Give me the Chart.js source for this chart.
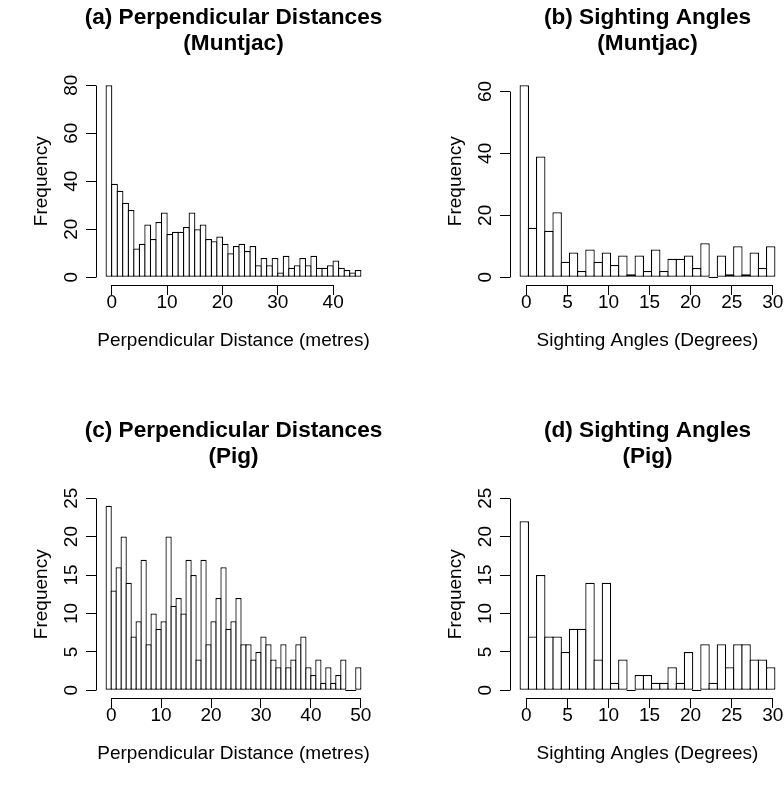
<!DOCTYPE html>
<html>
<head>
<meta charset="utf-8">
<script src="https://cdn.jsdelivr.net/npm/chart.js@4"></script>
<style>
html, body { margin:0; padding:0; background:#fff; width:784px; height:791px; overflow:hidden; position:relative; }
canvas { position:absolute; }
</style>
</head>
<body>
<canvas id="pa"></canvas>
<canvas id="pb"></canvas>
<canvas id="pc"></canvas>
<canvas id="pd"></canvas>
<script>
// ---------------- data (counts per 1-unit bin) ----------------
const muntjacDistCounts = [80,39,36,31,28,12,14,22,16,23,27,18,19,19,21,27,20,22,16,15,17,14,10,13,14,11,13,5,8,5,8,2,9,4,5,8,5,9,4,4,5,7,4,3,2,3];
const muntjacAngleCounts = [62,16,39,15,21,5,8,2,9,5,8,4,7,1,7,2,9,2,6,6,7,3,11,0,7,1,10,1,8,3,10];
const pigDistCounts = [24,13,16,20,14,7,9,17,6,10,8,9,20,11,12,10,17,15,4,17,6,9,12,16,8,9,12,6,6,4,5,7,6,4,3,6,3,4,6,7,3,2,4,1,3,1,2,4,0,0,3];
const pigAngleCounts = [22,7,15,7,7,5,8,8,14,4,14,1,4,0,2,2,1,1,3,1,5,0,6,1,6,3,6,6,4,4,3];

const distBinStart = -1;      // left edge of first distance bin
const angleBinStart = -0.75;  // left edge of first angle bin

// tick labels
const muntjacDistXTicks = [0,10,20,30,40];
const muntjacDistYTicks = [0,20,40,60,80];
const muntjacAngleXTicks = [0,5,10,15,20,25,30];
const muntjacAngleYTicks = [0,20,40,60];
const pigDistXTicks = [0,10,20,30,40,50];
const pigDistYTicks = [0,5,10,15,20,25];
const pigAngleXTicks = [0,5,10,15,20,25,30];
const pigAngleYTicks = [0,5,10,15,20,25];

// y-limits of each panel
const muntjacDistYMax = 80;
const muntjacAngleYMax = 62;
const pigDistYMax = 25;
const pigAngleYMax = 25;

// texts
const titleA = ["(a) Perpendicular Distances", "(Muntjac)"];
const titleB = ["(b) Sighting Angles", "(Muntjac)"];
const titleC = ["(c) Perpendicular Distances", "(Pig)"];
const titleD = ["(d) Sighting Angles", "(Pig)"];
const distXLabel = "Perpendicular Distance (metres)";
const angleXLabel = "Sighting Angles (Degrees)";
const yLabel = "Frequency";

// ---------------- style / layout ----------------
const FONT = "'Liberation Sans', Arial, Helvetica, sans-serif";
const FS = 19;          // base font size
const TFS = 22.6;       // title font size
const TLH = 26;         // title line spacing
const PW = 275, PH = 207.5;
const AXW = 96;         // room left of plot inside canvas
const TOPPAD = 77.5;    // room above plot inside canvas
const XH = 56 + FS * 0.6; // x-axis block height (title centre 56px below axis)
const TL = 10;          // tick length
const BW = 1.25;        // bar outline width
const CW = 392, CH = 380;

const rAxisLines = {
  id: 'rAxisLines',
  afterDraw(chart) {
    const { ctx, chartArea, scales } = chart;
    const x = scales.x, y = scales.y;
    const al = (p) => Math.round(p - 0.5) + 0.5;
    ctx.save();
    ctx.strokeStyle = '#000';
    ctx.lineWidth = 1;
    ctx.beginPath();
    const yb = al(chartArea.bottom);
    ctx.moveTo(al(x.getPixelForValue(x.ticks[0].value)), yb);
    ctx.lineTo(al(x.getPixelForValue(x.ticks[x.ticks.length - 1].value)), yb);
    const xl = al(chartArea.left);
    ctx.moveTo(xl, al(y.getPixelForValue(y.ticks[0].value)));
    ctx.lineTo(xl, al(y.getPixelForValue(y.ticks[y.ticks.length - 1].value)));
    ctx.stroke();
    ctx.restore();
  }
};

const rTitle = {
  id: 'rTitle',
  afterDraw(chart, args, opts) {
    const { ctx, chartArea } = chart;
    const cx = (chartArea.left + chartArea.right) / 2;
    ctx.save();
    ctx.fillStyle = '#000';
    ctx.font = 'bold ' + TFS + 'px ' + FONT;
    ctx.textAlign = 'center';
    ctx.textBaseline = 'middle';
    opts.lines.forEach((t, i) => ctx.fillText(t, cx, opts.y0 + i * TLH));
    ctx.restore();
  }
};

function panel(id, plotLeft, plotTop, counts, binStart, xTicks, yTicks, yMax, title, xlab) {
  const cv = document.getElementById(id);
  cv.width = CW; cv.height = CH;
  cv.style.left = (plotLeft - AXW) + 'px';
  cv.style.top = (plotTop - TOPPAD) + 'px';
  const xlo = binStart, xhi = binStart + counts.length;
  const ext = 0.04 * (xhi - xlo);
  const pxPerUnit = PW / ((xhi - xlo) + 2 * ext);
  const gridOpts = { display: true, offset: false, drawOnChartArea: false, drawTicks: true,
                     tickLength: TL, color: '#000', tickColor: '#000', lineWidth: 1 };
  const lh = FS * 1.2;
  new Chart(cv, {
    type: 'bar',
    data: {
      datasets: [{
        data: counts.map((c, i) => ({ x: binStart + i + 0.5, y: c })),
        backgroundColor: '#ffffff',
        borderColor: '#000000',
        borderWidth: BW,
        borderSkipped: false,
        barPercentage: 1 + BW / pxPerUnit,
        categoryPercentage: 1,
        inflateAmount: 0,
        minBarLength: BW
      }]
    },
    options: {
      responsive: false,
      animation: false,
      devicePixelRatio: 1,
      events: [],
      layout: { padding: { left: 0, top: TOPPAD, right: CW - AXW - PW, bottom: CH - TOPPAD - PH - XH } },
      plugins: {
        legend: { display: false },
        tooltip: { enabled: false },
        title: { display: false },
        rTitle: { lines: title, y0: 18 }
      },
      scales: {
        x: {
          type: 'linear', min: xlo - ext, max: xhi + ext, offset: false,
          grid: gridOpts, border: { display: false },
          afterBuildTicks: s => { s.ticks = xTicks.map(v => ({ value: v })); },
          afterFit: s => { s.height = XH; },
          ticks: { autoSkip: false, minRotation: 0, maxRotation: 0, padding: 18 - TL - lh / 2,
                   color: '#000', font: { family: FONT, size: FS }, callback: v => String(v) },
          title: { display: true, text: xlab, color: '#000', font: { family: FONT, size: FS },
                   padding: { top: 0, bottom: 0 } }
        },
        y: {
          type: 'linear', min: -0.04 * yMax, max: 1.04 * yMax,
          grid: gridOpts, border: { display: false },
          afterBuildTicks: s => { s.ticks = yTicks.map(v => ({ value: v })); },
          afterFit: s => { s.width = AXW; },
          ticks: { autoSkip: false, minRotation: 90, maxRotation: 90, crossAlign: 'center', padding: 4,
                   color: '#000', font: { family: FONT, size: FS }, callback: v => String(v) },
          title: { display: true, text: yLabel, color: '#000', font: { family: FONT, size: FS },
                   padding: { top: 42 - lh / 2, bottom: 0 } }
        }
      }
    },
    plugins: [rAxisLines, rTitle]
  });
}

panel('pa', 96, 77.5, muntjacDistCounts, distBinStart, muntjacDistXTicks, muntjacDistYTicks, muntjacDistYMax, titleA, distXLabel);
panel('pb', 509.5, 77.5, muntjacAngleCounts, angleBinStart, muntjacAngleXTicks, muntjacAngleYTicks, muntjacAngleYMax, titleB, angleXLabel);
panel('pc', 96, 490, pigDistCounts, distBinStart, pigDistXTicks, pigDistYTicks, pigDistYMax, titleC, distXLabel);
panel('pd', 509.5, 490, pigAngleCounts, angleBinStart, pigAngleXTicks, pigAngleYTicks, pigAngleYMax, titleD, angleXLabel);
</script>
</body>
</html>
